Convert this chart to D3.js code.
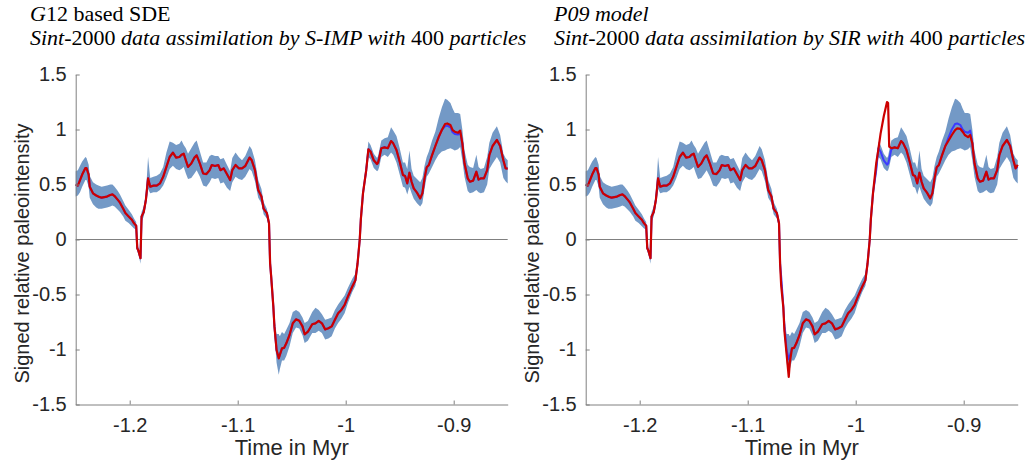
<!DOCTYPE html>
<html>
<head>
<meta charset="utf-8">
<script src="https://cdn.jsdelivr.net/npm/d3@7"></script>
<style>
  body { margin: 0; background: #fff; }
  svg { display: block; }
</style>
</head>
<body>
<svg id="chart" width="1034" height="461"></svg>
<script>
// ************************************
// Data
// ************************************

const timeMyr = [
  -1.250, -1.248, -1.246, -1.244, -1.241, -1.240, -1.238, -1.237, -1.234, -1.231,
  -1.229, -1.226, -1.221, -1.218, -1.216, -1.214, -1.211, -1.209, -1.206, -1.204,
  -1.201, -1.198, -1.196, -1.194, -1.193, -1.192, -1.190, -1.189, -1.187, -1.185,
  -1.183, -1.181, -1.178, -1.175, -1.172, -1.169, -1.166, -1.163, -1.160, -1.157,
  -1.154, -1.152, -1.150, -1.148, -1.146, -1.143, -1.140, -1.138, -1.135, -1.132,
  -1.129, -1.126, -1.124, -1.121, -1.118, -1.116, -1.113, -1.110, -1.107, -1.105,
  -1.102, -1.099, -1.096, -1.093, -1.089, -1.087, -1.084, -1.081, -1.078, -1.076,
  -1.073, -1.071, -1.070, -1.069, -1.067, -1.066, -1.064, -1.062, -1.061, -1.059,
  -1.057, -1.055, -1.052, -1.049, -1.046, -1.043, -1.040, -1.038, -1.035, -1.031,
  -1.028, -1.025, -1.022, -1.019, -1.016, -1.013, -1.010, -1.007, -1.004, -1.001,
  -0.998, -0.994, -0.991, -0.989, -0.987, -0.986, -0.984, -0.981, -0.979, -0.977,
  -0.974, -0.971, -0.970, -0.969, -0.967, -0.964, -0.961, -0.958, -0.956, -0.953,
  -0.950, -0.947, -0.945, -0.943, -0.941, -0.939, -0.937, -0.934, -0.931, -0.929,
  -0.927, -0.925, -0.923, -0.920, -0.917, -0.914, -0.911, -0.908, -0.906, -0.903,
  -0.901, -0.899, -0.896, -0.894, -0.892, -0.890, -0.887, -0.885, -0.882, -0.879,
  -0.877, -0.875, -0.872, -0.869, -0.867, -0.864, -0.860, -0.857, -0.854, -0.852,
  -0.850
];

// particle spread (same envelope in both panels)
const bandLow = [
  0.39, 0.40, 0.43, 0.48, 0.54, 0.54, 0.48, 0.38, 0.32, 0.29,
  0.28, 0.28, 0.29, 0.30, 0.31, 0.30, 0.27, 0.25, 0.21, 0.17,
  0.15, 0.12, 0.10, 0.09, -0.11, -0.13, -0.22, 0.16, 0.21, 0.31,
  0.46, 0.42, 0.43, 0.43, 0.45, 0.49, 0.56, 0.64, 0.67, 0.64,
  0.63, 0.64, 0.66, 0.60, 0.55, 0.56, 0.60, 0.63, 0.57, 0.49,
  0.48, 0.52, 0.56, 0.55, 0.56, 0.51, 0.52, 0.47, 0.44, 0.52,
  0.57, 0.55, 0.54, 0.57, 0.64, 0.62, 0.53, 0.38, 0.33, 0.23,
  0.19, 0.11, -0.25, -0.37, -0.66, -0.86, -1.12, -1.23, -1.18, -1.10,
  -1.10, -1.06, -0.97, -0.85, -0.80, -0.81, -0.87, -0.94, -0.92, -0.85,
  -0.85, -0.83, -0.85, -0.91, -0.90, -0.88, -0.81, -0.76, -0.72, -0.67,
  -0.58, -0.48, -0.42, -0.25, -0.03, 0.15, 0.38, 0.58, 0.75, 0.73,
  0.65, 0.62, 0.63, 0.66, 0.75, 0.77, 0.75, 0.79, 0.77, 0.70,
  0.59, 0.48, 0.47, 0.41, 0.48, 0.42, 0.37, 0.33, 0.30, 0.33,
  0.46, 0.57, 0.60, 0.66, 0.72, 0.77, 0.80, 0.81, 0.82, 0.83,
  0.82, 0.81, 0.82, 0.84, 0.72, 0.57, 0.44, 0.42, 0.43, 0.45,
  0.43, 0.42, 0.43, 0.50, 0.64, 0.69, 0.75, 0.70, 0.56, 0.53,
  0.51
];
const bandHigh = [
  0.62, 0.63, 0.67, 0.71, 0.75, 0.74, 0.68, 0.58, 0.52, 0.50,
  0.49, 0.48, 0.49, 0.50, 0.50, 0.48, 0.44, 0.41, 0.35, 0.31,
  0.27, 0.23, 0.19, 0.16, -0.05, -0.07, -0.14, 0.25, 0.30, 0.42,
  0.75, 0.56, 0.57, 0.58, 0.60, 0.66, 0.79, 0.89, 0.88, 0.86,
  0.87, 0.90, 0.86, 0.83, 0.78, 0.83, 0.88, 0.90, 0.80, 0.70,
  0.70, 0.76, 0.77, 0.76, 0.76, 0.73, 0.74, 0.68, 0.62, 0.74,
  0.79, 0.75, 0.72, 0.76, 0.85, 0.82, 0.72, 0.54, 0.46, 0.34,
  0.28, 0.18, -0.18, -0.30, -0.56, -0.72, -0.86, -0.86, -0.88, -0.84,
  -0.86, -0.82, -0.76, -0.66, -0.64, -0.66, -0.71, -0.76, -0.74, -0.66,
  -0.62, -0.64, -0.68, -0.73, -0.72, -0.71, -0.64, -0.59, -0.55, -0.51,
  -0.44, -0.36, -0.31, -0.18, 0.03, 0.21, 0.46, 0.69, 0.89, 0.86,
  0.78, 0.74, 0.76, 0.81, 0.90, 0.92, 0.93, 1.02, 0.99, 0.94,
  0.83, 0.70, 0.70, 0.64, 0.81, 0.64, 0.58, 0.55, 0.52, 0.56,
  0.67, 0.75, 0.80, 0.90, 0.98, 1.10, 1.20, 1.28, 1.27, 1.24,
  1.19, 1.15, 1.15, 1.14, 1.00, 0.81, 0.68, 0.66, 0.65, 0.77,
  0.66, 0.64, 0.65, 0.75, 0.88, 0.97, 1.03, 0.95, 0.78, 0.74,
  0.72
];

// G12 panel: blue = assimilation mean, red = Sint-2000 signal
const meanG12 = [
  0.50, 0.49, 0.54, 0.59, 0.65, 0.65, 0.59, 0.48, 0.42, 0.40,
  0.39, 0.38, 0.39, 0.405, 0.41, 0.395, 0.36, 0.335, 0.28, 0.24,
  0.21, 0.18, 0.147, 0.126, -0.08, -0.10, -0.17, 0.21, 0.25, 0.36,
  0.556, 0.48, 0.49, 0.49, 0.51, 0.57, 0.66, 0.75, 0.79, 0.745,
  0.75, 0.77, 0.78, 0.72, 0.66, 0.69, 0.745, 0.765, 0.69, 0.60,
  0.595, 0.63, 0.677, 0.668, 0.677, 0.63, 0.647, 0.595, 0.54, 0.63,
  0.677, 0.647, 0.647, 0.668, 0.745, 0.72, 0.63, 0.45, 0.39, 0.28,
  0.24, 0.147, -0.216, -0.338, -0.61, -0.79, -1.005, -1.08, -1.05, -0.99,
  -0.985, -0.944, -0.868, -0.762, -0.726, -0.738, -0.79, -0.862, -0.838, -0.77,
  -0.762, -0.74, -0.762, -0.817, -0.807, -0.79, -0.73, -0.671, -0.64, -0.595,
  -0.52, -0.43, -0.37, -0.216, 0.0, 0.18, 0.42, 0.63, 0.82, 0.80,
  0.72, 0.686, 0.70, 0.738, 0.83, 0.838, 0.83, 0.895, 0.874, 0.814,
  0.707, 0.586, 0.577, 0.51, 0.607, 0.525, 0.465, 0.426, 0.374, 0.42,
  0.556, 0.656, 0.677, 0.768, 0.85, 0.929, 0.995, 1.03, 1.035, 1.02,
  0.975, 0.96, 0.955, 0.975, 0.874, 0.693, 0.556, 0.525, 0.535, 0.616,
  0.544, 0.556, 0.556, 0.63, 0.768, 0.85, 0.905, 0.85, 0.72, 0.647,
  0.645
];
const truthG12 = [
  0.50, 0.49, 0.54, 0.59, 0.65, 0.65, 0.59, 0.48, 0.42, 0.40,
  0.39, 0.38, 0.39, 0.405, 0.41, 0.395, 0.36, 0.335, 0.28, 0.24,
  0.21, 0.18, 0.147, 0.126, -0.08, -0.10, -0.17, 0.21, 0.25, 0.36,
  0.556, 0.48, 0.49, 0.49, 0.51, 0.57, 0.66, 0.75, 0.79, 0.745,
  0.75, 0.77, 0.78, 0.72, 0.66, 0.69, 0.745, 0.765, 0.69, 0.60,
  0.595, 0.63, 0.677, 0.668, 0.677, 0.63, 0.647, 0.595, 0.54, 0.63,
  0.677, 0.647, 0.647, 0.668, 0.745, 0.72, 0.63, 0.45, 0.39, 0.28,
  0.24, 0.147, -0.216, -0.338, -0.61, -0.79, -1.005, -1.08, -1.05, -0.99,
  -0.985, -0.944, -0.868, -0.762, -0.726, -0.738, -0.79, -0.862, -0.838, -0.77,
  -0.762, -0.74, -0.762, -0.817, -0.807, -0.79, -0.73, -0.671, -0.64, -0.595,
  -0.52, -0.43, -0.37, -0.216, 0.0, 0.18, 0.42, 0.63, 0.82, 0.80,
  0.72, 0.686, 0.70, 0.738, 0.83, 0.838, 0.83, 0.895, 0.874, 0.814,
  0.707, 0.586, 0.577, 0.51, 0.607, 0.525, 0.465, 0.426, 0.374, 0.42,
  0.556, 0.656, 0.677, 0.768, 0.85, 0.929, 0.995, 1.05, 1.055, 1.04,
  0.995, 0.98, 0.97, 0.99, 0.874, 0.693, 0.556, 0.525, 0.535, 0.616,
  0.544, 0.556, 0.556, 0.63, 0.768, 0.85, 0.905, 0.85, 0.72, 0.647,
  0.645
];

// P09 panel
const meanP09 = [
  0.50, 0.49, 0.54, 0.59, 0.65, 0.65, 0.59, 0.48, 0.42, 0.40,
  0.39, 0.38, 0.39, 0.405, 0.41, 0.395, 0.36, 0.335, 0.28, 0.24,
  0.21, 0.18, 0.147, 0.126, -0.08, -0.10, -0.17, 0.21, 0.25, 0.36,
  0.556, 0.48, 0.49, 0.49, 0.51, 0.57, 0.66, 0.75, 0.79, 0.745,
  0.75, 0.77, 0.78, 0.72, 0.66, 0.69, 0.745, 0.765, 0.69, 0.60,
  0.595, 0.63, 0.677, 0.668, 0.677, 0.63, 0.647, 0.595, 0.54, 0.63,
  0.677, 0.647, 0.647, 0.668, 0.745, 0.72, 0.63, 0.45, 0.39, 0.28,
  0.24, 0.147, -0.216, -0.338, -0.61, -0.79, -1.005, -1.09, -1.06, -0.99,
  -0.985, -0.944, -0.868, -0.762, -0.726, -0.738, -0.79, -0.862, -0.838, -0.77,
  -0.762, -0.74, -0.762, -0.817, -0.807, -0.79, -0.73, -0.671, -0.64, -0.595,
  -0.52, -0.43, -0.37, -0.216, 0.0, 0.18, 0.42, 0.63, 0.83, 0.80,
  0.72, 0.68, 0.69, 0.73, 0.82, 0.838, 0.83, 0.895, 0.874, 0.814,
  0.707, 0.586, 0.577, 0.51, 0.607, 0.525, 0.465, 0.426, 0.374, 0.42,
  0.556, 0.656, 0.677, 0.768, 0.85, 0.929, 1.00, 1.05, 1.055, 1.04,
  1.00, 0.98, 0.97, 0.99, 0.874, 0.693, 0.556, 0.525, 0.535, 0.616,
  0.544, 0.556, 0.556, 0.63, 0.768, 0.85, 0.905, 0.85, 0.72, 0.647,
  0.66
];
const truthP09 = [
  0.50, 0.49, 0.54, 0.59, 0.65, 0.65, 0.59, 0.48, 0.42, 0.40,
  0.39, 0.38, 0.39, 0.405, 0.41, 0.395, 0.36, 0.335, 0.28, 0.24,
  0.21, 0.18, 0.147, 0.126, -0.08, -0.10, -0.17, 0.21, 0.25, 0.36,
  0.556, 0.48, 0.49, 0.49, 0.51, 0.57, 0.66, 0.75, 0.79, 0.745,
  0.75, 0.77, 0.78, 0.72, 0.66, 0.69, 0.745, 0.765, 0.69, 0.60,
  0.595, 0.63, 0.677, 0.668, 0.677, 0.63, 0.647, 0.595, 0.54, 0.63,
  0.677, 0.647, 0.647, 0.668, 0.745, 0.72, 0.63, 0.45, 0.39, 0.28,
  0.24, 0.147, -0.22, -0.42, -0.62, -0.83, -1.04, -1.25, -1.12, -0.99,
  -0.985, -0.944, -0.868, -0.762, -0.726, -0.738, -0.79, -0.862, -0.838, -0.77,
  -0.762, -0.74, -0.762, -0.817, -0.807, -0.79, -0.73, -0.671, -0.64, -0.595,
  -0.52, -0.43, -0.37, -0.216, 0.0, 0.18, 0.42, 0.693, 0.82, 0.96,
  1.12, 1.25, 1.24, 0.845, 0.83, 0.838, 0.83, 0.895, 0.874, 0.814,
  0.707, 0.586, 0.577, 0.51, 0.607, 0.525, 0.465, 0.426, 0.374, 0.42,
  0.556, 0.656, 0.677, 0.768, 0.85, 0.90, 0.95, 0.995, 1.01, 1.005,
  0.98, 0.95, 0.93, 0.95, 0.874, 0.693, 0.556, 0.525, 0.535, 0.616,
  0.544, 0.556, 0.556, 0.63, 0.768, 0.85, 0.905, 0.85, 0.72, 0.647,
  0.68
];

const xTicks = [-1.2, -1.1, -1, -0.9];
const yTicks = [-1.5, -1, -0.5, 0, 0.5, 1, 1.5];
const xDomain = [-1.25, -0.85];
const yDomain = [-1.5, 1.5];

const xLabel = "Time in Myr";
const yLabel = "Signed relative paleointensity";

// title pieces: [text, italic?]
const titleG12 = [
  [["G", true], ["12 based SDE", false]],
  [["Sint-", true], ["2000", false], [" data assimilation by S-IMP with ", true], ["400", false], [" particles", true]]
];
const titleP09 = [
  [["P09 model", true]],
  [["Sint-", true], ["2000", false], [" data assimilation by SIR with ", true], ["400", false], [" particles", true]]
];

// ************************************
// Layout
// ************************************

const svg = d3.select("#chart");

const plotTop = 74.5;
const plotHeight = 330;
const plotWidth = 432;

const panels = [
  { left: 75.7, titleX: 30, title: titleG12, mean: meanG12, truth: truthG12 },
  { left: 585.7, titleX: 554, title: titleP09, mean: meanP09, truth: truthP09 }
];

const x = d3.scaleLinear().domain(xDomain).range([0, plotWidth]);
const y = d3.scaleLinear().domain(yDomain).range([plotHeight, 0]);

const rows = timeMyr.map((t, i) => ({ t: t, lo: bandLow[i], hi: bandHigh[i] }));

const area = d3.area()
    .x(d => x(d.t))
    .y0(d => y(d.lo))
    .y1(d => y(d.hi));

const axisColor = "#808080";
const textColor = "#262626";
const sans = "'Liberation Sans', Arial, Helvetica, sans-serif";

panels.forEach(p => {
    // titles
    p.title.forEach((line, li) => {
        const txt = svg.append("text")
            .attr("x", p.titleX)
            .attr("y", 21 + li * 24)
            .style("font-family", "'Liberation Serif', 'Times New Roman', serif")
            .style("font-size", "22px")
            .style("white-space", "pre")
            .attr("fill", "#000");
        line.forEach(([s, it]) => {
            txt.append("tspan")
                .style("font-style", it ? "italic" : "normal")
                .text(s);
        });
    });

    const g = svg.append("g").attr("transform", `translate(${p.left},${plotTop})`);

    // zero line
    g.append("line")
        .attr("x1", 0).attr("x2", plotWidth)
        .attr("y1", y(0)).attr("y2", y(0))
        .attr("stroke", axisColor)
        .attr("stroke-width", 1);

    // particle envelope
    g.append("path")
        .datum(rows)
        .attr("d", area)
        .attr("fill", "#7399c6")
        .attr("stroke", "none");

    const line = vals => d3.line()
        .x((d, i) => x(timeMyr[i]))
        .y(d => y(d))(vals);

    g.append("path")
        .attr("d", line(p.mean))
        .attr("fill", "none")
        .attr("stroke", "#3b3bff")
        .attr("stroke-width", 2)
        .attr("stroke-linejoin", "round");

    g.append("path")
        .attr("d", line(p.truth))
        .attr("fill", "none")
        .attr("stroke", "#cc0000")
        .attr("stroke-width", 2.2)
        .attr("stroke-linejoin", "round");

    // axes (MATLAB style: inward ticks, no box)
    g.append("g")
        .attr("class", "x axis")
        .attr("transform", `translate(0,${plotHeight})`)
        .call(d3.axisBottom(x).tickValues(xTicks).tickFormat(d => String(d))
            .tickSizeInner(-4).tickSizeOuter(0).tickPadding(13));

    g.append("g")
        .attr("class", "y axis")
        .call(d3.axisLeft(y).tickValues(yTicks).tickFormat(d => String(d))
            .tickSizeInner(-4).tickSizeOuter(0).tickPadding(9));

    g.selectAll(".axis path, .axis line").attr("stroke", axisColor);
    g.selectAll(".axis text")
        .attr("fill", textColor)
        .style("font-family", sans)
        .style("font-size", "20px");

    // axis labels
    g.append("text")
        .attr("x", plotWidth / 2)
        .attr("y", 380.5)
        .attr("text-anchor", "middle")
        .attr("fill", textColor)
        .style("font-family", sans)
        .style("font-size", "22px")
        .text(xLabel);

    g.append("text")
        .attr("transform", `translate(-47,${plotHeight / 2 + 14}) rotate(-90)`)
        .attr("text-anchor", "middle")
        .attr("fill", textColor)
        .style("font-family", sans)
        .style("font-size", "20px")
        .text(yLabel);
});
</script>
</body>
</html>
